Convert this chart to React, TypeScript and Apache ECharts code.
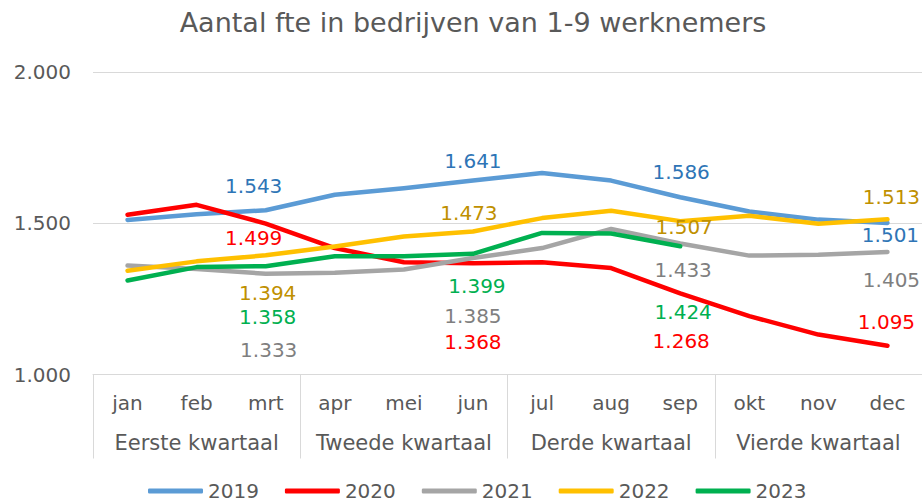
import React, { useEffect, useRef } from "react";
import * as echarts from "echarts";

const months = ["jan", "feb", "mrt", "apr", "mei", "jun", "jul", "aug", "sep", "okt", "nov", "dec"];
const quarters = ["Eerste kwartaal", "Tweede kwartaal", "Derde kwartaal", "Vierde kwartaal"];
const years = ["2019", "2020", "2021", "2022", "2023"];

const y2019 = [1511, 1530, 1543, 1594, 1616, 1641, 1666, 1641, 1586, 1539, 1512, 1501];
const y2020 = [1528, 1561, 1499, 1418, 1371, 1368, 1371, 1352, 1268, 1193, 1132, 1095];
const y2021 = [1360, 1349, 1333, 1336, 1347, 1385, 1418, 1481, 1433, 1393, 1396, 1405];
const y2022 = [1343, 1374, 1394, 1423, 1456, 1473, 1517, 1541, 1507, 1525, 1498, 1513];
const y2023 = [1311, 1355, 1358, 1391, 1391, 1399, 1468, 1466, 1424, null, null, null];

const yTicks = [1000, 1500, 2000];

const FONT = "'DejaVu Sans', Verdana, sans-serif";
const lineColors = ["#5B9BD5", "#FF0000", "#A5A5A5", "#FFC000", "#00B050"];
const labelColors = ["#2E75B6", "#FF0000", "#7F7F7F", "#BF9000", "#00B050"];

// label offsets (dx, dy) from the data point, per series, for labelled months (index -> offset)
const labelOffsets: Record<number, [number, number]>[] = [
  { 2: [-12, -24], 5: [0, -20], 8: [1, -25], 11: [3, 12] },
  { 2: [-12, 14], 5: [0, 79], 8: [1, 48], 11: [-1, -24] },
  { 2: [3, 76], 5: [0, 58], 8: [3, 26], 11: [4, 28] },
  { 2: [2, 38], 5: [-4, -18], 8: [4, 6], 11: [4, -22] },
  { 2: [2, 51], 5: [4, 32], 8: [3, 66] },
];

const fmt = (v: number) => (v / 1000).toFixed(3);

export default function App() {
  const ref = useRef<HTMLDivElement>(null);
  useEffect(() => {
    if (!ref.current) return;
    const chart = echarts.init(ref.current, undefined, { renderer: "svg" });
    const all = [y2019, y2020, y2021, y2022, y2023];
    const series = all.map((vals, si) => ({
      name: years[si],
      type: "line",
      xAxisIndex: 0,
      yAxisIndex: 0,
      symbol: "circle",
      symbolSize: 0.1,
      showSymbol: true,
      lineStyle: { width: 4.5, color: lineColors[si], cap: "round", join: "round" },
      itemStyle: { color: lineColors[si] },
      emphasis: { disabled: true },
      data: vals.map((v, i) => {
        const off = labelOffsets[si][i];
        if (v == null) return null;
        if (!off) return { value: v, label: { show: false } };
        return {
          value: v,
          label: {
            show: true,
            position: "inside",
            offset: off,
            formatter: (p: any) => fmt(p.value),
            color: labelColors[si],
            fontSize: 20,
            fontFamily: FONT,
          },
        };
      }),
    }));
    chart.setOption({
      animation: false,
      graphic: [
        {
          type: "text",
          x: 473,
          y: 22,
          style: {
            text: "Aantal fte in bedrijven van 1-9 werknemers",
            textAlign: "center",
            textVerticalAlign: "middle",
            fontSize: 27,
            fontFamily: FONT,
            fill: "#595959",
          },
        },
      ],
      legend: {
        data: years,
        left: 143,
        top: 476,
        icon: "roundRect",
        itemWidth: 55,
        itemHeight: 5,
        itemGap: 26,
        textStyle: { color: "#595959", fontSize: 20, fontFamily: FONT, lineHeight: 20 },
      },
      grid: { left: 93, right: 0, top: 72, bottom: 502 - 374.5, containLabel: false },
      xAxis: [
        {
          type: "category",
          data: months,
          position: "bottom",
          boundaryGap: true,
          axisLine: { show: true, lineStyle: { color: "#D9D9D9", width: 1 } },
          axisTick: { show: false },
          axisLabel: { margin: 18, color: "#595959", fontSize: 20, fontFamily: FONT, interval: 0 },
        },
        {
          type: "category",
          data: quarters,
          position: "bottom",
          boundaryGap: true,
          axisLine: { show: false },
          axisTick: { show: true, length: 84, lineStyle: { color: "#D9D9D9", width: 1 } },
          axisLabel: { margin: 58, color: "#595959", fontSize: 21, fontFamily: FONT, interval: 0 },
        },
      ],
      yAxis: {
        type: "value",
        min: yTicks[0],
        max: yTicks[yTicks.length - 1],
        interval: yTicks[1] - yTicks[0],
        axisLine: { show: false },
        axisTick: { show: false },
        splitLine: { lineStyle: { color: "#D9D9D9", width: 1 } },
        axisLabel: { margin: 22, color: "#595959", fontSize: 20, fontFamily: FONT, formatter: (v: number) => fmt(v) },
      },
      series,
    });
    return () => chart.dispose();
  }, []);
  return <div ref={ref} style={{ width: 922, height: 502, position: "absolute", left: 0, top: 0 }} />;
}
